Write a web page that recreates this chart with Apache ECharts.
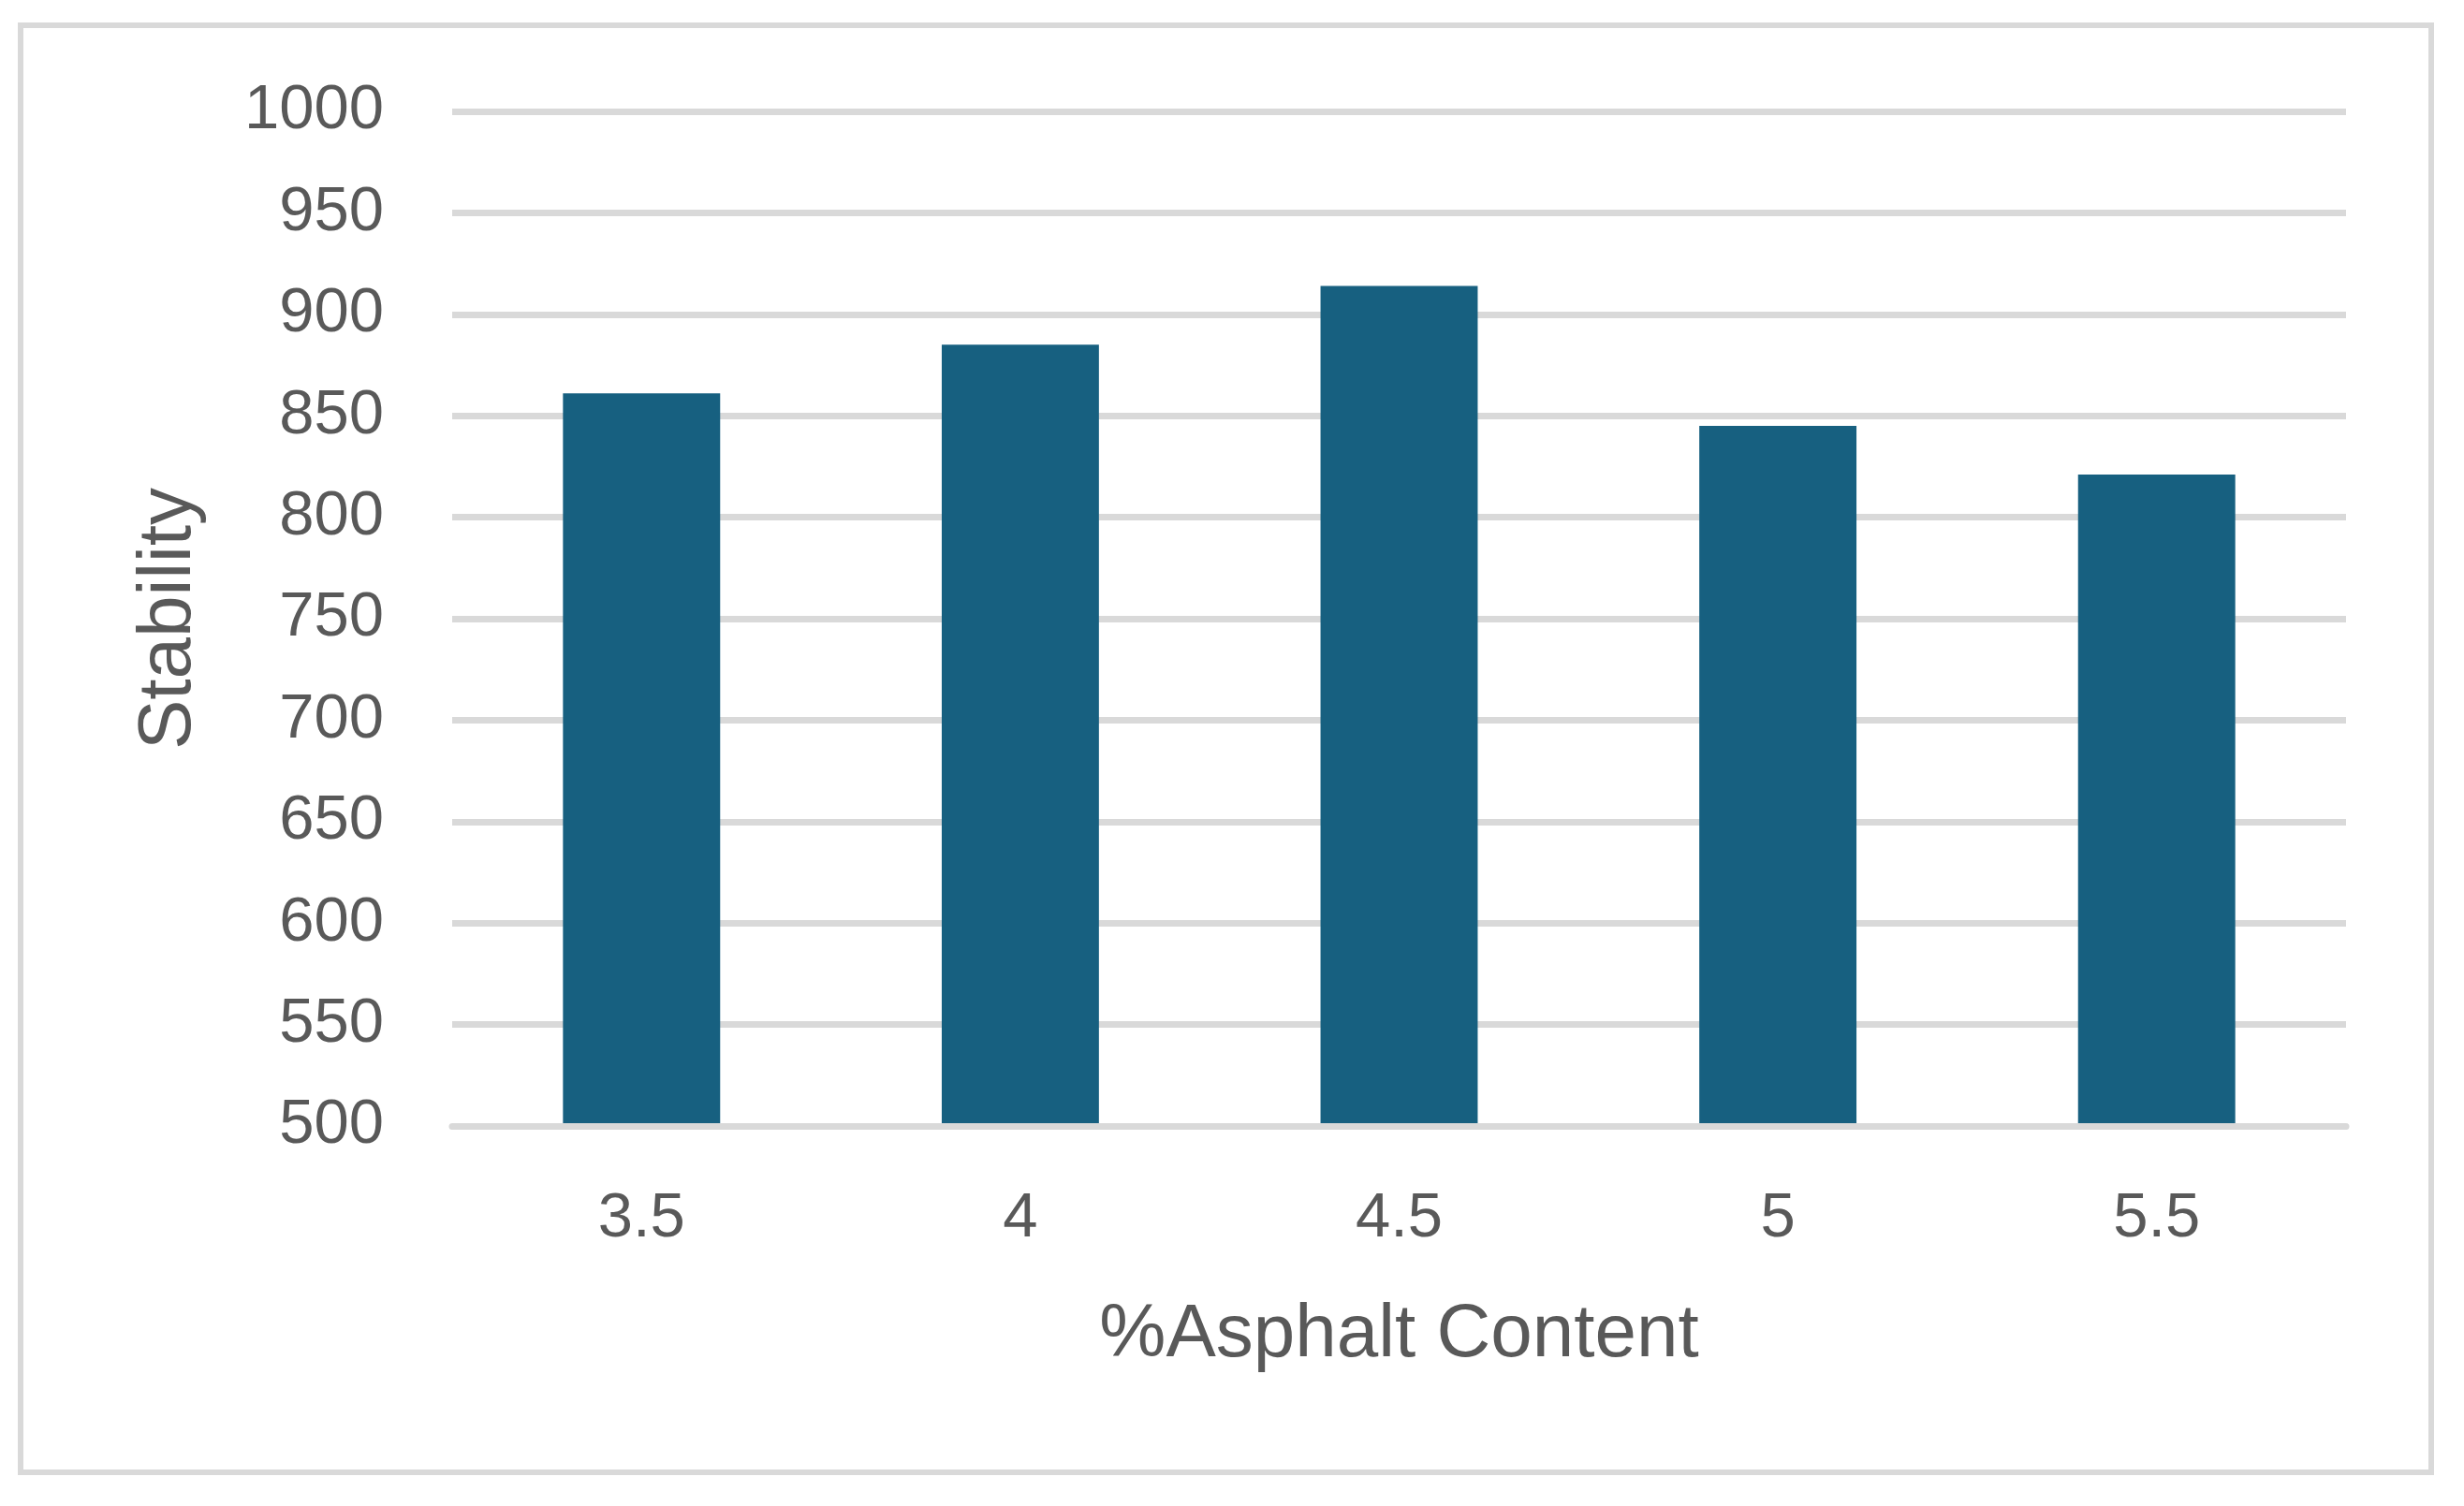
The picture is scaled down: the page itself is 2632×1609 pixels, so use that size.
<!DOCTYPE html>
<html>
<head>
<meta charset="utf-8">
<style>
  html, body { margin: 0; padding: 0; background: #ffffff; }
  #chart { width: 2632px; height: 1609px; }
</style>
<script src="https://cdn.jsdelivr.net/npm/echarts@6/dist/echarts.min.js"></script>
</head>
<body>
<div id="chart"></div>
<script>
const categories = ['3.5', '4', '4.5', '5', '5.5'];
const stabilityValues = [861, 885, 914, 845, 821];
const xAxisTitle = '%Asphalt Content';
const yAxisTitle = 'Stability';

const chart = echarts.init(document.getElementById('chart'), null, { renderer: 'canvas' });
const textColor = '#595959';
const gridColor = '#d9d9d9';
const fontFamily = '"Liberation Sans", Arial, sans-serif';

chart.setOption({
  animation: false,
  backgroundColor: '#ffffff',
  graphic: [{
    type: 'rect',
    shape: { x: 22, y: 27, width: 2575, height: 1546 },
    style: { fill: 'none', stroke: gridColor, lineWidth: 6 },
    silent: true,
    z: -1
  }],
  grid: { left: 483, right: 126, top: 119, bottom: 406, containLabel: false },
  xAxis: {
    type: 'category',
    data: categories,
    z: 3,
    axisLine: { show: true, lineStyle: { color: gridColor, width: 7 } },
    axisTick: { show: false },
    axisLabel: { color: textColor, fontSize: 67, fontFamily: fontFamily, margin: 66 },
    name: xAxisTitle,
    nameLocation: 'middle',
    nameGap: 184,
    nameTextStyle: { color: textColor, fontSize: 80, fontFamily: fontFamily }
  },
  yAxis: {
    type: 'value',
    min: 500,
    max: 1000,
    interval: 50,
    axisLine: { show: false },
    axisTick: { show: false },
    splitLine: { show: true, lineStyle: { color: gridColor, width: 7 } },
    axisLabel: { color: textColor, fontSize: 67, fontFamily: fontFamily, margin: 73, formatter: function (v) { return String(v); } },
    name: yAxisTitle,
    nameLocation: 'middle',
    nameGap: 262,
    nameTextStyle: { color: textColor, fontSize: 80, fontFamily: fontFamily }
  },
  series: [{
    type: 'bar',
    data: stabilityValues,
    barWidth: '41.5%',
    itemStyle: { color: '#176080' }
  }]
});
</script>
</body>
</html>
